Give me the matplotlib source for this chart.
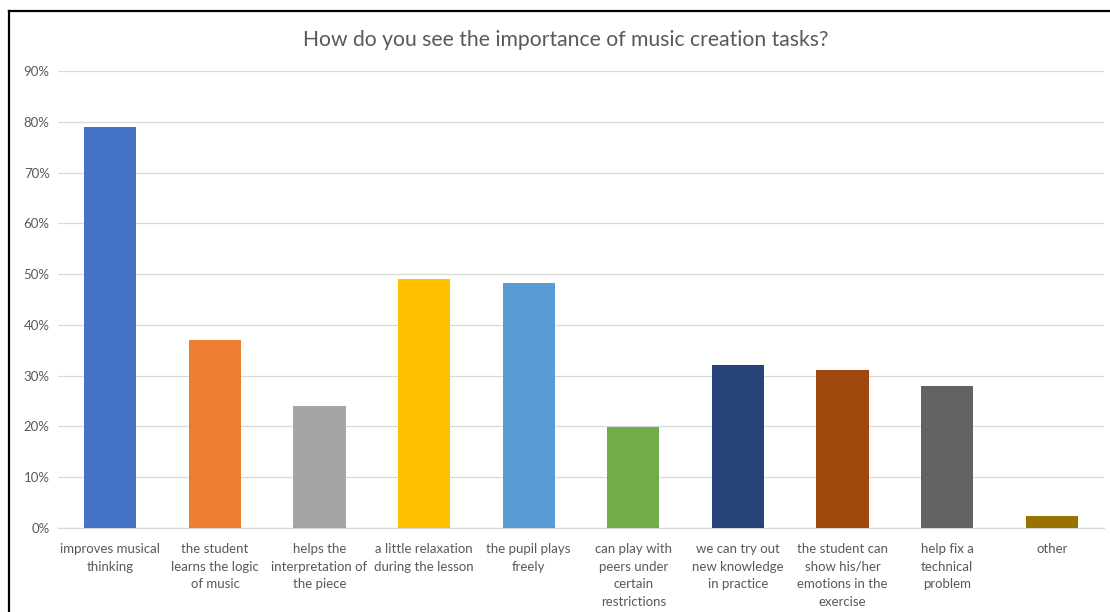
import matplotlib
matplotlib.use("Agg")
import matplotlib.pyplot as plt
from matplotlib.lines import Line2D
from matplotlib.ticker import PercentFormatter

plt.rcParams['font.family'] = ['Lato', 'DejaVu Sans']

categories = [
    "improves musical\nthinking",
    "the student\nlearns the logic\nof music",
    "helps the\ninterpretation of\nthe piece",
    "a little relaxation\nduring the lesson",
    "the pupil plays\nfreely",
    "can play with\npeers under\ncertain\nrestrictions",
    "we can try out\nnew knowledge\nin practice",
    "the student can\nshow his/her\nemotions in the\nexercise",
    "help fix a\ntechnical\nproblem",
    "other",
]
values = [0.79, 0.37, 0.241, 0.49, 0.482, 0.199, 0.32, 0.312, 0.28, 0.023]
colors = ["#4472C4", "#ED7D31", "#A5A5A5", "#FFC000", "#5B9BD5",
          "#70AD47", "#264478", "#9E480E", "#636363", "#997300"]
yticks = [i / 10 for i in range(10)]

fig = plt.figure(figsize=(11.1, 6.12), dpi=100)
ax = fig.add_axes([0.0523, 0.1373, 0.9423, 0.7467])

x = range(len(values))
ax.bar(x, values, width=0.5, color=colors, zorder=3)
ax.set_xlim(-0.5, len(values) - 0.5)
ax.set_ylim(0, 0.9)
ax.set_yticks(yticks)
ax.yaxis.set_major_formatter(PercentFormatter(1.0, decimals=0))
ax.set_xticks(list(x))
ax.set_xticklabels(categories, fontsize=9.5, color="#595959", linespacing=1.55)
ax.tick_params(axis='y', labelsize=9.5, labelcolor="#595959", length=0, pad=6)
ax.tick_params(axis='x', length=0, pad=11)
ax.grid(axis='y', color="#D9D9D9", linewidth=0.9, zorder=0)
for s in ['top', 'right', 'left']:
    ax.spines[s].set_visible(False)
ax.spines['bottom'].set_color("#D9D9D9")
ax.spines['bottom'].set_linewidth(0.9)

fig.text(566 / 1110, 1 - 40 / 612, "How do you see the importance of music creation tasks?",
         ha='center', va='center', fontsize=15.2, color="#595959")

# chart area border (cropped on right and bottom)
fig.add_artist(Line2D([8.5 / 1110, 8.5 / 1110], [0, 1 - 11 / 612], color='black', linewidth=1.6))
fig.add_artist(Line2D([8.5 / 1110, 1], [1 - 11 / 612, 1 - 11 / 612], color='black', linewidth=1.6))

fig.savefig("out.png", dpi=100)
